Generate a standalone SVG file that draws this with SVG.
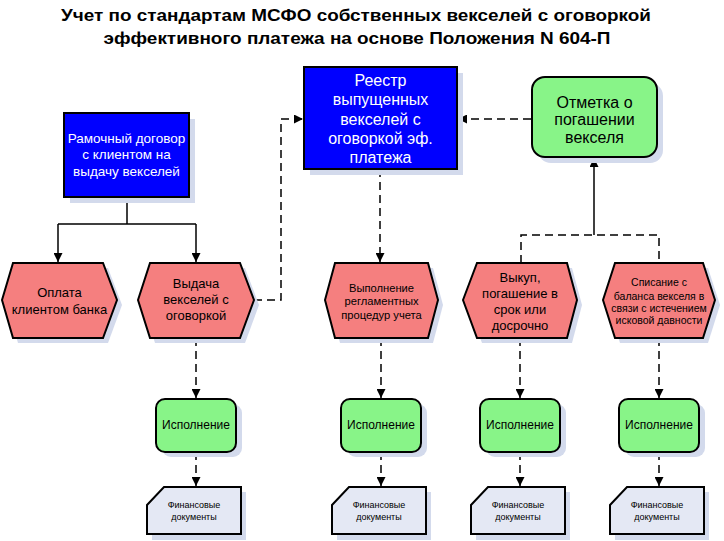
<svg xmlns="http://www.w3.org/2000/svg" width="724" height="541" viewBox="0 0 724 541">
<style>
.title{font-family:"Liberation Sans",Arial,sans-serif;font-weight:bold;font-size:17px;fill:#000;text-anchor:middle}
.t{font-family:"Liberation Sans",Arial,sans-serif;text-anchor:middle;fill:#000}
.w{fill:#fff}
.blue{fill:#0000ff;stroke:#000;stroke-width:2}
.hex{fill:#f57f7f;stroke:#000;stroke-width:2}
.grn{fill:#88f488;stroke:#000;stroke-width:2}
.doc{fill:#e4e8f4;stroke:#000;stroke-width:2}
.sh{fill:#d3daec}
.c{fill:none;stroke:#000;stroke-width:1.5}
.d{stroke-dasharray:8 5}
</style>
<defs>
<marker id="ar2" viewBox="0 0 10 10" refX="10" refY="5" markerWidth="9" markerHeight="9" markerUnits="userSpaceOnUse" orient="auto">
<path d="M0,0 L10,5 L0,10 z" fill="#000"/>
</marker>
</defs>
<rect width="724" height="541" fill="#fff"/>
<text class="title" x="356" y="21" textLength="590" lengthAdjust="spacingAndGlyphs">Учет по стандартам МСФО собственных векселей с оговоркой</text>
<text class="title" x="357" y="44" textLength="507" lengthAdjust="spacingAndGlyphs">эффективного платежа на основе Положения N 604-П</text>

<g id="connectors">
<path class="c" d="M127,197 V224 M58,224 H196"/>
<path class="c" d="M58,224 V262" marker-end="url(#ar2)"/>
<path class="c" d="M196,224 V262" marker-end="url(#ar2)"/>
<path class="c d" d="M254,300 H281 V119 H303" marker-end="url(#ar2)"/>
<path class="c d" d="M531,119 H458" marker-end="url(#ar2)"/>
<path class="c d" d="M380,169 V262" marker-end="url(#ar2)"/>
<path class="c d" d="M521,263 V235 H659 V263"/>
<path class="c" d="M594,235 V158" marker-end="url(#ar2)"/>
<path class="c d" d="M196,338 V398" marker-end="url(#ar2)"/>
<path class="c d" d="M381,338 V398" marker-end="url(#ar2)"/>
<path class="c d" d="M520,338 V398" marker-end="url(#ar2)"/>
<path class="c d" d="M659,338 V398" marker-end="url(#ar2)"/>
<path class="c d" d="M196,452 V486" marker-end="url(#ar2)"/>
<path class="c d" d="M381,452 V486" marker-end="url(#ar2)"/>
<path class="c d" d="M520,452 V486" marker-end="url(#ar2)"/>
<path class="c d" d="M659,452 V486" marker-end="url(#ar2)"/>
</g>

<g id="n-ramochny">
<rect class="sh" x="70" y="119" width="125" height="84"/>
<rect class="blue" x="64" y="113" width="125" height="84"/>
<text class="t w" font-size="13.5"><tspan x="126.5" y="143">Рамочный договор</tspan><tspan x="126.5" y="159">с клиентом на</tspan><tspan x="126.5" y="176">выдачу векселей</tspan></text>
</g>

<g id="n-reestr">
<rect class="sh" x="310" y="73" width="153" height="102"/>
<rect class="blue" x="304" y="67" width="153" height="102"/>
<text class="t w" font-size="16"><tspan x="380.5" y="86">Реестр</tspan><tspan x="380.5" y="105">выпущенных</tspan><tspan x="380.5" y="125">векселей с</tspan><tspan x="380.5" y="144">оговоркой эф.</tspan><tspan x="380.5" y="163">платежа</tspan></text>
</g>

<g id="n-otmetka">
<rect class="sh" x="538" y="83" width="125" height="80" rx="13"/>
<rect class="grn" x="532" y="77" width="125" height="80" rx="13"/>
<text class="t" font-size="16"><tspan x="594.5" y="108">Отметка о</tspan><tspan x="594.5" y="125">погашении</tspan><tspan x="594.5" y="143">векселя</tspan></text>
</g>

<g id="n-oplata">
<polygon class="sh" points="7,305 18,268 108,268 122,305 108,343 18,343"/>
<polygon class="hex" points="2,300 13,263 103,263 117,300 103,338 13,338"/>
<text class="t" font-size="13"><tspan x="59.5" y="297">Оплата</tspan><tspan x="59.5" y="314">клиентом банка</tspan></text>
</g>

<g id="n-vydacha">
<polygon class="sh" points="143,305 155,268 245,268 259,305 245,343 155,343"/>
<polygon class="hex" points="138,300 150,263 240,263 254,300 240,338 150,338"/>
<text class="t" font-size="13"><tspan x="196" y="288">Выдача</tspan><tspan x="196" y="304">векселей с</tspan><tspan x="196" y="320">оговоркой</tspan></text>
</g>

<g id="n-vypolnenie">
<polygon class="sh" points="330,305 340,268 433,268 443,305 433,343 340,343"/>
<polygon class="hex" points="325,300 335,263 428,263 438,300 428,338 335,338"/>
<text class="t" font-size="11.2"><tspan x="381.5" y="292">Выполнение</tspan><tspan x="381.5" y="305">регламентных</tspan><tspan x="381.5" y="319">процедур учета</tspan></text>
</g>

<g id="n-vykup">
<polygon class="sh" points="468,305 482,268 572,268 582,305 572,343 482,343"/>
<polygon class="hex" points="463,300 477,263 567,263 577,300 567,338 477,338"/>
<text class="t" font-size="13"><tspan x="520" y="282">Выкуп,</tspan><tspan x="520" y="298">погашение в</tspan><tspan x="520" y="314">срок или</tspan><tspan x="520" y="330">досрочно</tspan></text>
</g>

<g id="n-spisanie">
<polygon class="sh" points="608,305 620,268 708,268 720,305 708,343 620,343"/>
<polygon class="hex" points="603,300 615,263 703,263 715,300 703,338 615,338"/>
<text class="t" font-size="10.5"><tspan x="659" y="286">Списание с</tspan><tspan x="659" y="300">баланса векселя в</tspan><tspan x="659" y="312">связи с истечением</tspan><tspan x="659" y="324">исковой давности</tspan></text>
</g>

<g id="n-isp1">
<rect class="sh" x="162" y="404" width="80" height="53" rx="9"/>
<rect class="grn" x="156" y="399" width="80" height="53" rx="9"/>
<text class="t" font-size="12" x="196" y="429">Исполнение</text>
</g>
<g id="n-isp2">
<rect class="sh" x="347" y="404" width="80" height="53" rx="9"/>
<rect class="grn" x="341" y="399" width="80" height="53" rx="9"/>
<text class="t" font-size="12" x="381" y="429">Исполнение</text>
</g>
<g id="n-isp3">
<rect class="sh" x="486" y="404" width="80" height="53" rx="9"/>
<rect class="grn" x="480" y="399" width="80" height="53" rx="9"/>
<text class="t" font-size="12" x="520" y="429">Исполнение</text>
</g>
<g id="n-isp4">
<rect class="sh" x="625" y="404" width="80" height="53" rx="9"/>
<rect class="grn" x="619" y="399" width="80" height="53" rx="9"/>
<text class="t" font-size="12" x="659" y="429">Исполнение</text>
</g>

<g id="n-doc1">
<polygon class="sh" points="152,510 169,492 246,492 246,540 152,540"/>
<polygon class="doc" points="147,505 164,487 241,487 241,534 147,534"/>
<text class="t" font-size="9"><tspan x="194" y="508">Финансовые</tspan><tspan x="194" y="520">документы</tspan></text>
</g>
<g id="n-doc2">
<polygon class="sh" points="337,510 354,492 431,492 431,540 337,540"/>
<polygon class="doc" points="332,505 349,487 426,487 426,534 332,534"/>
<text class="t" font-size="9"><tspan x="379" y="508">Финансовые</tspan><tspan x="379" y="520">документы</tspan></text>
</g>
<g id="n-doc3">
<polygon class="sh" points="476,510 493,492 570,492 570,540 476,540"/>
<polygon class="doc" points="471,505 488,487 565,487 565,534 471,534"/>
<text class="t" font-size="9"><tspan x="518" y="508">Финансовые</tspan><tspan x="518" y="520">документы</tspan></text>
</g>
<g id="n-doc4">
<polygon class="sh" points="615,510 632,492 709,492 709,540 615,540"/>
<polygon class="doc" points="610,505 627,487 704,487 704,534 610,534"/>
<text class="t" font-size="9"><tspan x="657" y="508">Финансовые</tspan><tspan x="657" y="520">документы</tspan></text>
</g>
</svg>
